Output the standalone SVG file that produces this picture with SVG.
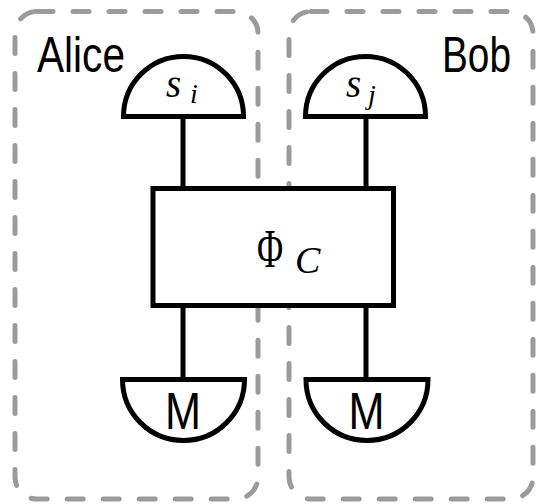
<svg xmlns="http://www.w3.org/2000/svg" width="539" height="504" viewBox="0 0 539 504">
<style>
.party{fill:none;stroke:#9b9b9b;stroke-width:5;stroke-dasharray:16 20;stroke-linecap:round}
.shape{fill:#fff;stroke:#000;stroke-width:5;stroke-linejoin:miter}
.wire{stroke:#000;stroke-width:5;fill:none}
.lbl{font-family:"Liberation Sans",Arial,sans-serif;font-size:50px;fill:#000}
.math{font-family:"Liberation Serif","Times New Roman",serif;fill:#000}
.it{font-style:italic}
</style>
<rect width="539" height="504" fill="#fff"/>
<g id="alice">
<rect class="party" x="15" y="11.5" width="243" height="487.5" rx="22" ry="22"/>
<text class="lbl" x="37" y="72" textLength="88" lengthAdjust="spacingAndGlyphs">Alice</text>
</g>
<g id="bob">
<rect class="party" x="289" y="11.5" width="244" height="487.5" rx="22" ry="22"/>
<text class="lbl" x="442" y="72" textLength="69" lengthAdjust="spacingAndGlyphs">Bob</text>
</g>
<g id="connectors">
<line class="wire" x1="183" y1="116" x2="183" y2="188"/>
<line class="wire" x1="366" y1="116" x2="366" y2="188"/>
<line class="wire" x1="183" y1="306" x2="183" y2="380"/>
<line class="wire" x1="366" y1="306" x2="366" y2="380"/>
</g>
<g id="prep_i">
<path class="shape" d="M123.5,116.5 A60,60 0 0 1 243.5,116.5 Z"/>
<text class="math it" x="166" y="97" font-size="39">s</text>
<text class="math it" x="190" y="103" font-size="28">i</text>
</g>
<g id="prep_j">
<path class="shape" d="M305.5,116.5 A60,60 0 0 1 425.5,116.5 Z"/>
<text class="math it" x="346" y="97" font-size="39">s</text>
<text class="math it" x="368" y="104" font-size="28">j</text>
</g>
<g id="channel">
<rect class="shape" x="153" y="188.5" width="240.5" height="117"/>
<text class="math" transform="translate(257,267) scale(0.65,1)" x="0" y="0" font-size="55">Φ</text>
<text class="math it" x="295" y="273" font-size="38">C</text>
</g>
<g id="meas_a">
<path class="shape" d="M122.5,379.5 A61,61 0 0 0 244.5,379.5 Z"/>
<text class="lbl" x="165" y="429" style="font-size:52px" textLength="36" lengthAdjust="spacingAndGlyphs">M</text>
</g>
<g id="meas_b">
<path class="shape" d="M306,379.5 A61,61 0 0 0 428,379.5 Z"/>
<text class="lbl" x="348.5" y="429" style="font-size:52px" textLength="36" lengthAdjust="spacingAndGlyphs">M</text>
</g>
</svg>
